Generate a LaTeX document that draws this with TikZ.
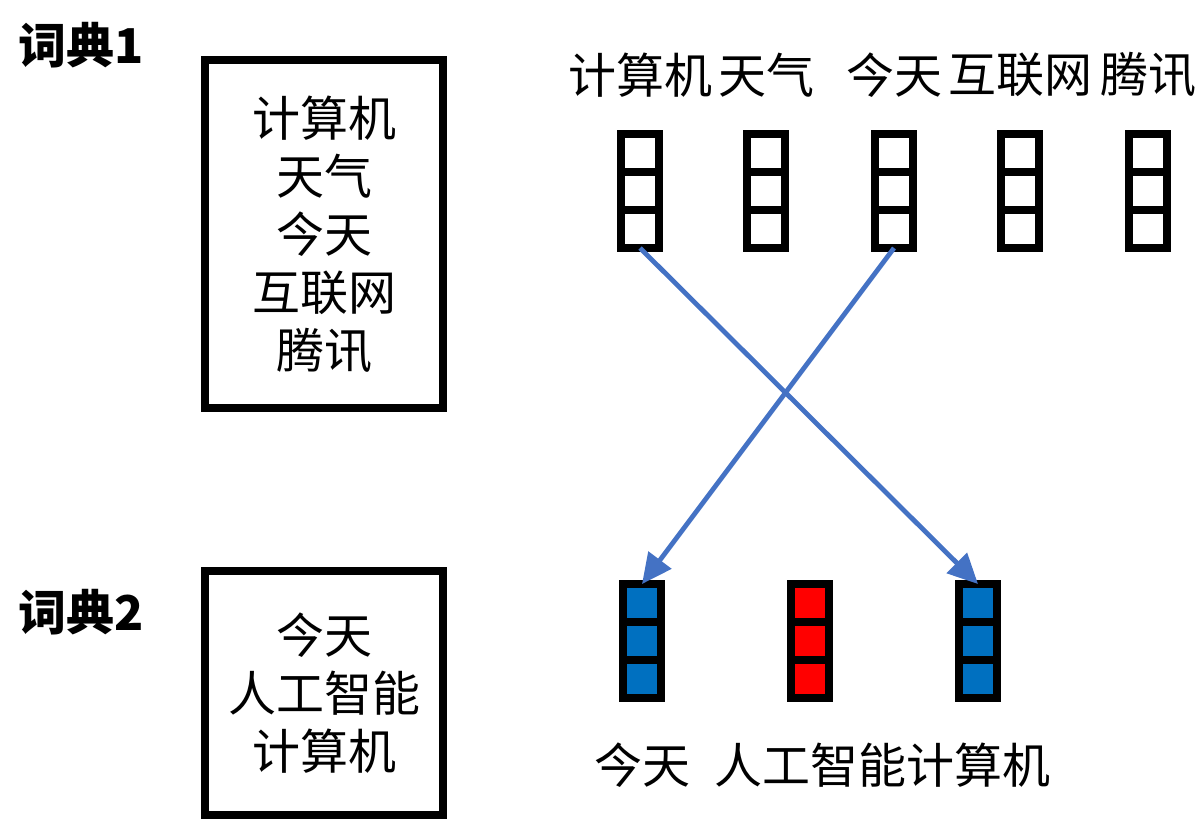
\documentclass[tikz,border=0pt]{standalone}
\usepackage{fontspec}
\usepackage{xcolor}
\usetikzlibrary{arrows.meta,calc}
\setmainfont{Noto Sans CJK SC}
\definecolor{vecblue}{HTML}{0070C0}
\definecolor{vecred}{HTML}{FF0000}
\definecolor{linkblue}{HTML}{4472C4}
\newcommand{\cjksize}{\fontsize{24pt}{29pt}\selectfont}

\begin{document}
\begin{tikzpicture}[x=0.5pt,y=-0.5pt,
  dictbox/.style={draw, line width=4pt, minimum width=119pt, inner sep=0pt, outer sep=0pt, align=center, font=\cjksize},
  vecbox/.style={draw, line width=4pt, minimum width=19pt, minimum height=57pt, inner sep=0pt, outer sep=0pt},
  wordlabel/.style={font=\cjksize, inner sep=0pt},
  dictlabel/.style={font=\cjksize\bfseries, anchor=west, inner sep=0pt},
  wordlink/.style={linkblue, line width=2.4pt, -{Triangle[length=15pt,width=14pt]}}]
  \useasboundingbox (0,0) rectangle (1202,826);

  % dictionaries
  \node[dictlabel] (name1) at (18,45) {词典1};
  \node[dictlabel] (name2) at (18,612) {词典2};
  \node[dictbox, minimum height=174pt] (dict1) at (324,234) {计算机\\天气\\今天\\互联网\\腾讯};
  \node[dictbox, minimum height=122pt] (dict2) at (324,693) {今天\\人工智能\\计算机};

  % word vectors
  \foreach \name/\px/\word in {top1/640/计算机, top2/766/天气, top3/894/今天, top4/1020/互联网, top5/1148/腾讯} {
    \node[vecbox] (\name) at (\px,191) {};
    \node[wordlabel] (\name-label) at (\px,75) {\word};
  }
  \foreach \name/\px/\col/\word in {bot1/642/vecblue/今天, bot2/810/vecred/人工智能, bot3/978/vecblue/计算机} {
    \node[vecbox, fill=\col] (\name) at (\px,641) {};
    \node[wordlabel] (\name-label) at (\px,765) {\word};
  }
  \foreach \name in {top1,top2,top3,top4,top5,bot1,bot2,bot3}
    \foreach \k in {1,2}
      \draw[line width=4pt] ($(\name.north west)!\k/3!(\name.south west)$) -- ($(\name.north east)!\k/3!(\name.south east)$);

  % links
  \draw[wordlink] (top1.south) -- (bot3.north);
  \draw[wordlink] (top3.south) -- (bot1.north);
\end{tikzpicture}
\end{document}
